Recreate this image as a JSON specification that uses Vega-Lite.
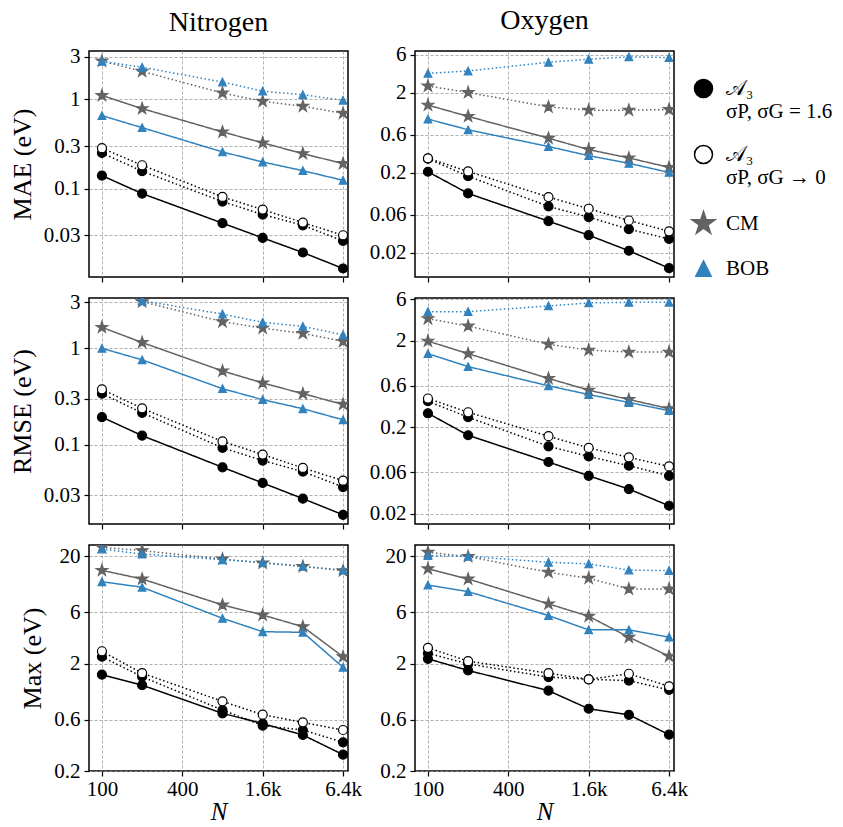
{
  "$schema": "https://vega.github.io/schema/vega-lite/v6.json",
  "background": "white",
  "padding": {"left": 8, "top": 6, "right": 2, "bottom": 0},
  "datasets": {
    "err": [
      {"el":"Nitrogen","metric":"MAE","method":"CM","line":"solid","N":100,"v":1.11},
      {"el":"Nitrogen","metric":"MAE","method":"CM","line":"solid","N":200,"v":0.79},
      {"el":"Nitrogen","metric":"MAE","method":"CM","line":"solid","N":800,"v":0.433},
      {"el":"Nitrogen","metric":"MAE","method":"CM","line":"solid","N":1600,"v":0.326},
      {"el":"Nitrogen","metric":"MAE","method":"CM","line":"solid","N":3200,"v":0.247},
      {"el":"Nitrogen","metric":"MAE","method":"CM","line":"solid","N":6400,"v":0.191},
      {"el":"Nitrogen","metric":"MAE","method":"CM","line":"dotted","N":100,"v":2.70},
      {"el":"Nitrogen","metric":"MAE","method":"CM","line":"dotted","N":200,"v":2.07},
      {"el":"Nitrogen","metric":"MAE","method":"CM","line":"dotted","N":800,"v":1.18},
      {"el":"Nitrogen","metric":"MAE","method":"CM","line":"dotted","N":1600,"v":0.955},
      {"el":"Nitrogen","metric":"MAE","method":"CM","line":"dotted","N":3200,"v":0.839},
      {"el":"Nitrogen","metric":"MAE","method":"CM","line":"dotted","N":6400,"v":0.700},
      {"el":"Nitrogen","metric":"MAE","method":"BOB","line":"solid","N":100,"v":0.659},
      {"el":"Nitrogen","metric":"MAE","method":"BOB","line":"solid","N":200,"v":0.483},
      {"el":"Nitrogen","metric":"MAE","method":"BOB","line":"solid","N":800,"v":0.258},
      {"el":"Nitrogen","metric":"MAE","method":"BOB","line":"solid","N":1600,"v":0.199},
      {"el":"Nitrogen","metric":"MAE","method":"BOB","line":"solid","N":3200,"v":0.159},
      {"el":"Nitrogen","metric":"MAE","method":"BOB","line":"solid","N":6400,"v":0.124},
      {"el":"Nitrogen","metric":"MAE","method":"BOB","line":"dotted","N":100,"v":2.68},
      {"el":"Nitrogen","metric":"MAE","method":"BOB","line":"dotted","N":200,"v":2.30},
      {"el":"Nitrogen","metric":"MAE","method":"BOB","line":"dotted","N":800,"v":1.57},
      {"el":"Nitrogen","metric":"MAE","method":"BOB","line":"dotted","N":1600,"v":1.24},
      {"el":"Nitrogen","metric":"MAE","method":"BOB","line":"dotted","N":3200,"v":1.13},
      {"el":"Nitrogen","metric":"MAE","method":"BOB","line":"dotted","N":6400,"v":0.98},
      {"el":"Nitrogen","metric":"MAE","method":"a16","line":"solid","N":100,"v":0.140},
      {"el":"Nitrogen","metric":"MAE","method":"a16","line":"solid","N":200,"v":0.088},
      {"el":"Nitrogen","metric":"MAE","method":"a16","line":"solid","N":800,"v":0.041},
      {"el":"Nitrogen","metric":"MAE","method":"a16","line":"solid","N":1600,"v":0.028},
      {"el":"Nitrogen","metric":"MAE","method":"a16","line":"solid","N":3200,"v":0.0192},
      {"el":"Nitrogen","metric":"MAE","method":"a16","line":"solid","N":6400,"v":0.0127},
      {"el":"Nitrogen","metric":"MAE","method":"a16","line":"dotted","N":100,"v":0.251},
      {"el":"Nitrogen","metric":"MAE","method":"a16","line":"dotted","N":200,"v":0.157},
      {"el":"Nitrogen","metric":"MAE","method":"a16","line":"dotted","N":800,"v":0.0716},
      {"el":"Nitrogen","metric":"MAE","method":"a16","line":"dotted","N":1600,"v":0.0512},
      {"el":"Nitrogen","metric":"MAE","method":"a16","line":"dotted","N":3200,"v":0.0388},
      {"el":"Nitrogen","metric":"MAE","method":"a16","line":"dotted","N":6400,"v":0.0259},
      {"el":"Nitrogen","metric":"MAE","method":"a0","line":"dotted","N":100,"v":0.284},
      {"el":"Nitrogen","metric":"MAE","method":"a0","line":"dotted","N":200,"v":0.183},
      {"el":"Nitrogen","metric":"MAE","method":"a0","line":"dotted","N":800,"v":0.0807},
      {"el":"Nitrogen","metric":"MAE","method":"a0","line":"dotted","N":1600,"v":0.0582},
      {"el":"Nitrogen","metric":"MAE","method":"a0","line":"dotted","N":3200,"v":0.0416},
      {"el":"Nitrogen","metric":"MAE","method":"a0","line":"dotted","N":6400,"v":0.030},

      {"el":"Oxygen","metric":"MAE","method":"CM","line":"solid","N":100,"v":1.41},
      {"el":"Oxygen","metric":"MAE","method":"CM","line":"solid","N":200,"v":1.02},
      {"el":"Oxygen","metric":"MAE","method":"CM","line":"solid","N":800,"v":0.544},
      {"el":"Oxygen","metric":"MAE","method":"CM","line":"solid","N":1600,"v":0.392},
      {"el":"Oxygen","metric":"MAE","method":"CM","line":"solid","N":3200,"v":0.308},
      {"el":"Oxygen","metric":"MAE","method":"CM","line":"solid","N":6400,"v":0.235},
      {"el":"Oxygen","metric":"MAE","method":"CM","line":"dotted","N":100,"v":2.44},
      {"el":"Oxygen","metric":"MAE","method":"CM","line":"dotted","N":200,"v":2.03},
      {"el":"Oxygen","metric":"MAE","method":"CM","line":"dotted","N":800,"v":1.34},
      {"el":"Oxygen","metric":"MAE","method":"CM","line":"dotted","N":1600,"v":1.22},
      {"el":"Oxygen","metric":"MAE","method":"CM","line":"dotted","N":3200,"v":1.22},
      {"el":"Oxygen","metric":"MAE","method":"CM","line":"dotted","N":6400,"v":1.24},
      {"el":"Oxygen","metric":"MAE","method":"BOB","line":"solid","N":100,"v":0.944},
      {"el":"Oxygen","metric":"MAE","method":"BOB","line":"solid","N":200,"v":0.693},
      {"el":"Oxygen","metric":"MAE","method":"BOB","line":"solid","N":800,"v":0.428},
      {"el":"Oxygen","metric":"MAE","method":"BOB","line":"solid","N":1600,"v":0.329},
      {"el":"Oxygen","metric":"MAE","method":"BOB","line":"solid","N":3200,"v":0.264},
      {"el":"Oxygen","metric":"MAE","method":"BOB","line":"solid","N":6400,"v":0.203},
      {"el":"Oxygen","metric":"MAE","method":"BOB","line":"dotted","N":100,"v":3.52},
      {"el":"Oxygen","metric":"MAE","method":"BOB","line":"dotted","N":200,"v":3.77},
      {"el":"Oxygen","metric":"MAE","method":"BOB","line":"dotted","N":800,"v":4.85},
      {"el":"Oxygen","metric":"MAE","method":"BOB","line":"dotted","N":1600,"v":5.29},
      {"el":"Oxygen","metric":"MAE","method":"BOB","line":"dotted","N":3200,"v":5.66},
      {"el":"Oxygen","metric":"MAE","method":"BOB","line":"dotted","N":6400,"v":5.55},
      {"el":"Oxygen","metric":"MAE","method":"a16","line":"solid","N":100,"v":0.207},
      {"el":"Oxygen","metric":"MAE","method":"a16","line":"solid","N":200,"v":0.111},
      {"el":"Oxygen","metric":"MAE","method":"a16","line":"solid","N":800,"v":0.0499},
      {"el":"Oxygen","metric":"MAE","method":"a16","line":"solid","N":1600,"v":0.0333},
      {"el":"Oxygen","metric":"MAE","method":"a16","line":"solid","N":3200,"v":0.0213},
      {"el":"Oxygen","metric":"MAE","method":"a16","line":"solid","N":6400,"v":0.0129},
      {"el":"Oxygen","metric":"MAE","method":"a16","line":"dotted","N":100,"v":0.302},
      {"el":"Oxygen","metric":"MAE","method":"a16","line":"dotted","N":200,"v":0.182},
      {"el":"Oxygen","metric":"MAE","method":"a16","line":"dotted","N":800,"v":0.0764},
      {"el":"Oxygen","metric":"MAE","method":"a16","line":"dotted","N":1600,"v":0.0561},
      {"el":"Oxygen","metric":"MAE","method":"a16","line":"dotted","N":3200,"v":0.0396},
      {"el":"Oxygen","metric":"MAE","method":"a16","line":"dotted","N":6400,"v":0.0299},
      {"el":"Oxygen","metric":"MAE","method":"a0","line":"dotted","N":100,"v":0.305},
      {"el":"Oxygen","metric":"MAE","method":"a0","line":"dotted","N":200,"v":0.209},
      {"el":"Oxygen","metric":"MAE","method":"a0","line":"dotted","N":800,"v":0.100},
      {"el":"Oxygen","metric":"MAE","method":"a0","line":"dotted","N":1600,"v":0.0714},
      {"el":"Oxygen","metric":"MAE","method":"a0","line":"dotted","N":3200,"v":0.0509},
      {"el":"Oxygen","metric":"MAE","method":"a0","line":"dotted","N":6400,"v":0.0373},

      {"el":"Nitrogen","metric":"RMSE","method":"CM","line":"solid","N":100,"v":1.65},
      {"el":"Nitrogen","metric":"RMSE","method":"CM","line":"solid","N":200,"v":1.15},
      {"el":"Nitrogen","metric":"RMSE","method":"CM","line":"solid","N":800,"v":0.582},
      {"el":"Nitrogen","metric":"RMSE","method":"CM","line":"solid","N":1600,"v":0.437},
      {"el":"Nitrogen","metric":"RMSE","method":"CM","line":"solid","N":3200,"v":0.338},
      {"el":"Nitrogen","metric":"RMSE","method":"CM","line":"solid","N":6400,"v":0.262},
      {"el":"Nitrogen","metric":"RMSE","method":"CM","line":"dotted","N":100,"v":4.3},
      {"el":"Nitrogen","metric":"RMSE","method":"CM","line":"dotted","N":200,"v":3.05},
      {"el":"Nitrogen","metric":"RMSE","method":"CM","line":"dotted","N":800,"v":1.89},
      {"el":"Nitrogen","metric":"RMSE","method":"CM","line":"dotted","N":1600,"v":1.62},
      {"el":"Nitrogen","metric":"RMSE","method":"CM","line":"dotted","N":3200,"v":1.43},
      {"el":"Nitrogen","metric":"RMSE","method":"CM","line":"dotted","N":6400,"v":1.18},
      {"el":"Nitrogen","metric":"RMSE","method":"BOB","line":"solid","N":100,"v":1.00},
      {"el":"Nitrogen","metric":"RMSE","method":"BOB","line":"solid","N":200,"v":0.759},
      {"el":"Nitrogen","metric":"RMSE","method":"BOB","line":"solid","N":800,"v":0.381},
      {"el":"Nitrogen","metric":"RMSE","method":"BOB","line":"solid","N":1600,"v":0.293},
      {"el":"Nitrogen","metric":"RMSE","method":"BOB","line":"solid","N":3200,"v":0.236},
      {"el":"Nitrogen","metric":"RMSE","method":"BOB","line":"solid","N":6400,"v":0.181},
      {"el":"Nitrogen","metric":"RMSE","method":"BOB","line":"dotted","N":100,"v":4.4},
      {"el":"Nitrogen","metric":"RMSE","method":"BOB","line":"dotted","N":200,"v":3.12},
      {"el":"Nitrogen","metric":"RMSE","method":"BOB","line":"dotted","N":800,"v":2.27},
      {"el":"Nitrogen","metric":"RMSE","method":"BOB","line":"dotted","N":1600,"v":1.86},
      {"el":"Nitrogen","metric":"RMSE","method":"BOB","line":"dotted","N":3200,"v":1.69},
      {"el":"Nitrogen","metric":"RMSE","method":"BOB","line":"dotted","N":6400,"v":1.38},
      {"el":"Nitrogen","metric":"RMSE","method":"a16","line":"solid","N":100,"v":0.193},
      {"el":"Nitrogen","metric":"RMSE","method":"a16","line":"solid","N":200,"v":0.124},
      {"el":"Nitrogen","metric":"RMSE","method":"a16","line":"solid","N":800,"v":0.0582},
      {"el":"Nitrogen","metric":"RMSE","method":"a16","line":"solid","N":1600,"v":0.040},
      {"el":"Nitrogen","metric":"RMSE","method":"a16","line":"solid","N":3200,"v":0.0275},
      {"el":"Nitrogen","metric":"RMSE","method":"a16","line":"solid","N":6400,"v":0.0187},
      {"el":"Nitrogen","metric":"RMSE","method":"a16","line":"dotted","N":100,"v":0.338},
      {"el":"Nitrogen","metric":"RMSE","method":"a16","line":"dotted","N":200,"v":0.214},
      {"el":"Nitrogen","metric":"RMSE","method":"a16","line":"dotted","N":800,"v":0.0927},
      {"el":"Nitrogen","metric":"RMSE","method":"a16","line":"dotted","N":1600,"v":0.0684},
      {"el":"Nitrogen","metric":"RMSE","method":"a16","line":"dotted","N":3200,"v":0.0525},
      {"el":"Nitrogen","metric":"RMSE","method":"a16","line":"dotted","N":6400,"v":0.0363},
      {"el":"Nitrogen","metric":"RMSE","method":"a0","line":"dotted","N":100,"v":0.375},
      {"el":"Nitrogen","metric":"RMSE","method":"a0","line":"dotted","N":200,"v":0.238},
      {"el":"Nitrogen","metric":"RMSE","method":"a0","line":"dotted","N":800,"v":0.108},
      {"el":"Nitrogen","metric":"RMSE","method":"a0","line":"dotted","N":1600,"v":0.0789},
      {"el":"Nitrogen","metric":"RMSE","method":"a0","line":"dotted","N":3200,"v":0.0573},
      {"el":"Nitrogen","metric":"RMSE","method":"a0","line":"dotted","N":6400,"v":0.0423},

      {"el":"Oxygen","metric":"RMSE","method":"CM","line":"solid","N":100,"v":1.97},
      {"el":"Oxygen","metric":"RMSE","method":"CM","line":"solid","N":200,"v":1.41},
      {"el":"Oxygen","metric":"RMSE","method":"CM","line":"solid","N":800,"v":0.730},
      {"el":"Oxygen","metric":"RMSE","method":"CM","line":"solid","N":1600,"v":0.535},
      {"el":"Oxygen","metric":"RMSE","method":"CM","line":"solid","N":3200,"v":0.417},
      {"el":"Oxygen","metric":"RMSE","method":"CM","line":"solid","N":6400,"v":0.327},
      {"el":"Oxygen","metric":"RMSE","method":"CM","line":"dotted","N":100,"v":3.58},
      {"el":"Oxygen","metric":"RMSE","method":"CM","line":"dotted","N":200,"v":2.94},
      {"el":"Oxygen","metric":"RMSE","method":"CM","line":"dotted","N":800,"v":1.81},
      {"el":"Oxygen","metric":"RMSE","method":"CM","line":"dotted","N":1600,"v":1.55},
      {"el":"Oxygen","metric":"RMSE","method":"CM","line":"dotted","N":3200,"v":1.47},
      {"el":"Oxygen","metric":"RMSE","method":"CM","line":"dotted","N":6400,"v":1.47},
      {"el":"Oxygen","metric":"RMSE","method":"BOB","line":"solid","N":100,"v":1.41},
      {"el":"Oxygen","metric":"RMSE","method":"BOB","line":"solid","N":200,"v":1.00},
      {"el":"Oxygen","metric":"RMSE","method":"BOB","line":"solid","N":800,"v":0.600},
      {"el":"Oxygen","metric":"RMSE","method":"BOB","line":"solid","N":1600,"v":0.476},
      {"el":"Oxygen","metric":"RMSE","method":"BOB","line":"solid","N":3200,"v":0.385},
      {"el":"Oxygen","metric":"RMSE","method":"BOB","line":"solid","N":6400,"v":0.310},
      {"el":"Oxygen","metric":"RMSE","method":"BOB","line":"dotted","N":100,"v":4.31},
      {"el":"Oxygen","metric":"RMSE","method":"BOB","line":"dotted","N":200,"v":4.31},
      {"el":"Oxygen","metric":"RMSE","method":"BOB","line":"dotted","N":800,"v":5.02},
      {"el":"Oxygen","metric":"RMSE","method":"BOB","line":"dotted","N":1600,"v":5.44},
      {"el":"Oxygen","metric":"RMSE","method":"BOB","line":"dotted","N":3200,"v":5.53},
      {"el":"Oxygen","metric":"RMSE","method":"BOB","line":"dotted","N":6400,"v":5.53},
      {"el":"Oxygen","metric":"RMSE","method":"a16","line":"solid","N":100,"v":0.289},
      {"el":"Oxygen","metric":"RMSE","method":"a16","line":"solid","N":200,"v":0.161},
      {"el":"Oxygen","metric":"RMSE","method":"a16","line":"solid","N":800,"v":0.0791},
      {"el":"Oxygen","metric":"RMSE","method":"a16","line":"solid","N":1600,"v":0.0548},
      {"el":"Oxygen","metric":"RMSE","method":"a16","line":"solid","N":3200,"v":0.0385},
      {"el":"Oxygen","metric":"RMSE","method":"a16","line":"solid","N":6400,"v":0.0247},
      {"el":"Oxygen","metric":"RMSE","method":"a16","line":"dotted","N":100,"v":0.398},
      {"el":"Oxygen","metric":"RMSE","method":"a16","line":"dotted","N":200,"v":0.260},
      {"el":"Oxygen","metric":"RMSE","method":"a16","line":"dotted","N":800,"v":0.120},
      {"el":"Oxygen","metric":"RMSE","method":"a16","line":"dotted","N":1600,"v":0.0918},
      {"el":"Oxygen","metric":"RMSE","method":"a16","line":"dotted","N":3200,"v":0.0716},
      {"el":"Oxygen","metric":"RMSE","method":"a16","line":"dotted","N":6400,"v":0.0548},
      {"el":"Oxygen","metric":"RMSE","method":"a0","line":"dotted","N":100,"v":0.428},
      {"el":"Oxygen","metric":"RMSE","method":"a0","line":"dotted","N":200,"v":0.297},
      {"el":"Oxygen","metric":"RMSE","method":"a0","line":"dotted","N":800,"v":0.157},
      {"el":"Oxygen","metric":"RMSE","method":"a0","line":"dotted","N":1600,"v":0.115},
      {"el":"Oxygen","metric":"RMSE","method":"a0","line":"dotted","N":3200,"v":0.0895},
      {"el":"Oxygen","metric":"RMSE","method":"a0","line":"dotted","N":6400,"v":0.0703},

      {"el":"Nitrogen","metric":"Max","method":"CM","line":"solid","N":100,"v":14.8},
      {"el":"Nitrogen","metric":"Max","method":"CM","line":"solid","N":200,"v":12.3},
      {"el":"Nitrogen","metric":"Max","method":"CM","line":"solid","N":800,"v":7.05},
      {"el":"Nitrogen","metric":"Max","method":"CM","line":"solid","N":1600,"v":5.68},
      {"el":"Nitrogen","metric":"Max","method":"CM","line":"solid","N":3200,"v":4.42},
      {"el":"Nitrogen","metric":"Max","method":"CM","line":"solid","N":6400,"v":2.32},
      {"el":"Nitrogen","metric":"Max","method":"CM","line":"dotted","N":100,"v":24.3},
      {"el":"Nitrogen","metric":"Max","method":"CM","line":"dotted","N":200,"v":22.6},
      {"el":"Nitrogen","metric":"Max","method":"CM","line":"dotted","N":800,"v":18.9},
      {"el":"Nitrogen","metric":"Max","method":"CM","line":"dotted","N":1600,"v":17.3},
      {"el":"Nitrogen","metric":"Max","method":"CM","line":"dotted","N":3200,"v":16.1},
      {"el":"Nitrogen","metric":"Max","method":"CM","line":"dotted","N":6400,"v":14.7},
      {"el":"Nitrogen","metric":"Max","method":"BOB","line":"solid","N":100,"v":11.6},
      {"el":"Nitrogen","metric":"Max","method":"BOB","line":"solid","N":200,"v":10.3},
      {"el":"Nitrogen","metric":"Max","method":"BOB","line":"solid","N":800,"v":5.29},
      {"el":"Nitrogen","metric":"Max","method":"BOB","line":"solid","N":1600,"v":3.97},
      {"el":"Nitrogen","metric":"Max","method":"BOB","line":"solid","N":3200,"v":3.92},
      {"el":"Nitrogen","metric":"Max","method":"BOB","line":"solid","N":6400,"v":1.85},
      {"el":"Nitrogen","metric":"Max","method":"BOB","line":"dotted","N":100,"v":23.4},
      {"el":"Nitrogen","metric":"Max","method":"BOB","line":"dotted","N":200,"v":21.0},
      {"el":"Nitrogen","metric":"Max","method":"BOB","line":"dotted","N":800,"v":18.6},
      {"el":"Nitrogen","metric":"Max","method":"BOB","line":"dotted","N":1600,"v":17.6},
      {"el":"Nitrogen","metric":"Max","method":"BOB","line":"dotted","N":3200,"v":16.1},
      {"el":"Nitrogen","metric":"Max","method":"BOB","line":"dotted","N":6400,"v":14.9},
      {"el":"Nitrogen","metric":"Max","method":"a16","line":"solid","N":100,"v":1.58},
      {"el":"Nitrogen","metric":"Max","method":"a16","line":"solid","N":200,"v":1.26},
      {"el":"Nitrogen","metric":"Max","method":"a16","line":"solid","N":800,"v":0.689},
      {"el":"Nitrogen","metric":"Max","method":"a16","line":"solid","N":1600,"v":0.553},
      {"el":"Nitrogen","metric":"Max","method":"a16","line":"solid","N":3200,"v":0.433},
      {"el":"Nitrogen","metric":"Max","method":"a16","line":"solid","N":6400,"v":0.284},
      {"el":"Nitrogen","metric":"Max","method":"a16","line":"dotted","N":100,"v":2.32},
      {"el":"Nitrogen","metric":"Max","method":"a16","line":"dotted","N":200,"v":1.51},
      {"el":"Nitrogen","metric":"Max","method":"a16","line":"dotted","N":800,"v":0.740},
      {"el":"Nitrogen","metric":"Max","method":"a16","line":"dotted","N":1600,"v":0.529},
      {"el":"Nitrogen","metric":"Max","method":"a16","line":"dotted","N":3200,"v":0.482},
      {"el":"Nitrogen","metric":"Max","method":"a16","line":"dotted","N":6400,"v":0.370},
      {"el":"Nitrogen","metric":"Max","method":"a0","line":"dotted","N":100,"v":2.61},
      {"el":"Nitrogen","metric":"Max","method":"a0","line":"dotted","N":200,"v":1.63},
      {"el":"Nitrogen","metric":"Max","method":"a0","line":"dotted","N":800,"v":0.891},
      {"el":"Nitrogen","metric":"Max","method":"a0","line":"dotted","N":1600,"v":0.670},
      {"el":"Nitrogen","metric":"Max","method":"a0","line":"dotted","N":3200,"v":0.568},
      {"el":"Nitrogen","metric":"Max","method":"a0","line":"dotted","N":6400,"v":0.482},

      {"el":"Oxygen","metric":"Max","method":"CM","line":"solid","N":100,"v":15.3},
      {"el":"Oxygen","metric":"Max","method":"CM","line":"solid","N":200,"v":12.3},
      {"el":"Oxygen","metric":"Max","method":"CM","line":"solid","N":800,"v":7.21},
      {"el":"Oxygen","metric":"Max","method":"CM","line":"solid","N":1600,"v":5.53},
      {"el":"Oxygen","metric":"Max","method":"CM","line":"solid","N":3200,"v":3.53},
      {"el":"Oxygen","metric":"Max","method":"CM","line":"solid","N":6400,"v":2.35},
      {"el":"Oxygen","metric":"Max","method":"CM","line":"dotted","N":100,"v":21.8},
      {"el":"Oxygen","metric":"Max","method":"CM","line":"dotted","N":200,"v":19.9},
      {"el":"Oxygen","metric":"Max","method":"CM","line":"dotted","N":800,"v":14.2},
      {"el":"Oxygen","metric":"Max","method":"CM","line":"dotted","N":1600,"v":12.5},
      {"el":"Oxygen","metric":"Max","method":"CM","line":"dotted","N":3200,"v":9.93},
      {"el":"Oxygen","metric":"Max","method":"CM","line":"dotted","N":6400,"v":9.93},
      {"el":"Oxygen","metric":"Max","method":"BOB","line":"solid","N":100,"v":10.8},
      {"el":"Oxygen","metric":"Max","method":"BOB","line":"solid","N":200,"v":9.38},
      {"el":"Oxygen","metric":"Max","method":"BOB","line":"solid","N":800,"v":5.61},
      {"el":"Oxygen","metric":"Max","method":"BOB","line":"solid","N":1600,"v":4.13},
      {"el":"Oxygen","metric":"Max","method":"BOB","line":"solid","N":3200,"v":4.13},
      {"el":"Oxygen","metric":"Max","method":"BOB","line":"solid","N":6400,"v":3.53},
      {"el":"Oxygen","metric":"Max","method":"BOB","line":"dotted","N":100,"v":20.3},
      {"el":"Oxygen","metric":"Max","method":"BOB","line":"dotted","N":200,"v":20.0},
      {"el":"Oxygen","metric":"Max","method":"BOB","line":"dotted","N":800,"v":17.6},
      {"el":"Oxygen","metric":"Max","method":"BOB","line":"dotted","N":1600,"v":17.0},
      {"el":"Oxygen","metric":"Max","method":"BOB","line":"dotted","N":3200,"v":14.9},
      {"el":"Oxygen","metric":"Max","method":"BOB","line":"dotted","N":6400,"v":14.7},
      {"el":"Oxygen","metric":"Max","method":"a16","line":"solid","N":100,"v":2.22},
      {"el":"Oxygen","metric":"Max","method":"a16","line":"solid","N":200,"v":1.73},
      {"el":"Oxygen","metric":"Max","method":"a16","line":"solid","N":800,"v":1.12},
      {"el":"Oxygen","metric":"Max","method":"a16","line":"solid","N":1600,"v":0.760},
      {"el":"Oxygen","metric":"Max","method":"a16","line":"solid","N":3200,"v":0.668},
      {"el":"Oxygen","metric":"Max","method":"a16","line":"solid","N":6400,"v":0.436},
      {"el":"Oxygen","metric":"Max","method":"a16","line":"dotted","N":100,"v":2.50},
      {"el":"Oxygen","metric":"Max","method":"a16","line":"dotted","N":200,"v":1.99},
      {"el":"Oxygen","metric":"Max","method":"a16","line":"dotted","N":800,"v":1.50},
      {"el":"Oxygen","metric":"Max","method":"a16","line":"dotted","N":1600,"v":1.43},
      {"el":"Oxygen","metric":"Max","method":"a16","line":"dotted","N":3200,"v":1.39},
      {"el":"Oxygen","metric":"Max","method":"a16","line":"dotted","N":6400,"v":1.14},
      {"el":"Oxygen","metric":"Max","method":"a0","line":"dotted","N":100,"v":2.81},
      {"el":"Oxygen","metric":"Max","method":"a0","line":"dotted","N":200,"v":2.11},
      {"el":"Oxygen","metric":"Max","method":"a0","line":"dotted","N":800,"v":1.63},
      {"el":"Oxygen","metric":"Max","method":"a0","line":"dotted","N":1600,"v":1.43},
      {"el":"Oxygen","metric":"Max","method":"a0","line":"dotted","N":3200,"v":1.61},
      {"el":"Oxygen","metric":"Max","method":"a0","line":"dotted","N":6400,"v":1.23}
    ]
  },
  "data": {"name": "err"},
  "columns": 2,
  "bounds": "flush",
  "spacing": {"row": 21, "column": 67},
  "config": {
    "font": "Liberation Serif",
    "view": {"stroke": "black", "strokeWidth": 1.5},
    "axis": {
      "domain": false,
      "grid": true,
      "gridColor": "#9a9a9a",
      "gridDash": [3, 2],
      "gridWidth": 0.8,
      "ticks": true,
      "tickColor": "black",
      "tickSize": 5,
      "tickWidth": 1.2,
      "labelFont": "Liberation Serif",
      "labelFontSize": 21,
      "labelColor": "black",
      "labelOverlap": false,
      "labelFlush": false,
      "labelPadding": 4,
      "titleFont": "Liberation Serif",
      "titleFontSize": 26,
      "titleFontWeight": "normal",
      "titleColor": "black"
    },
    "axisY": {"titlePadding": 8},
    "axisX": {"titlePadding": 0, "labelPadding": 2, "titleFontSize": 25, "titleFontStyle": "italic"},
    "title": {"font": "Liberation Serif", "fontSize": 28, "fontWeight": "normal", "color": "black", "offset": 9},
    "legend": {
      "orient": "right",
      "labelFont": "Liberation Serif",
      "labelFontSize": 21,
      "labelColor": "black",
      "symbolSize": 324,
      "symbolStrokeWidth": 1.5,
      "rowPadding": 20,
      "labelOffset": 12,
      "offset": -23,
      "padding": 27
    }
  },
  "concat": [
    {
      "width": 259, "height": 226,
      "title": "Nitrogen",
      "transform": [{"filter": "datum.el == 'Nitrogen' && datum.metric == 'MAE'"}],
      "encoding": {
        "x": {"field": "N", "type": "quantitative", "scale": {"type": "log", "domain": [80, 6970], "nice": false}, "axis": {"values": [100, 400, 1600, 6400], "labels": false, "title": null}},
        "y": {"field": "v", "type": "quantitative", "scale": {"type": "log", "domain": [0.0102, 3.5], "nice": false}, "axis": {"values": [0.03, 0.1, 0.3, 1, 3], "format": "~g", "title": "MAE (eV)"}}
      },
      "layer": [
        {"mark": {"type": "line", "clip": true, "strokeWidth": 1.5},
         "encoding": {
           "color": {"field": "method", "type": "nominal", "scale": {"domain": ["BOB", "CM", "a0", "a16"], "range": ["#3182bd", "#636363", "black", "black"]}, "legend": null},
           "strokeDash": {"field": "line", "type": "nominal", "scale": {"domain": ["solid", "dotted"], "range": [[1, 0], [1.5, 2.5]]}, "legend": null}}},
        {"mark": {"type": "point", "filled": true, "opacity": 1, "size": 81, "strokeWidth": 1.2, "clip": true},
         "encoding": {
           "shape": {"field": "method", "type": "nominal", "scale": {"domain": ["a16", "a0", "CM", "BOB"], "range": ["M1,0A1,1,0,1,1,-1,0A1,1,0,1,1,1,0Z", "M1,0A1,1,0,1,1,-1,0A1,1,0,1,1,1,0Z", "M0,-1.35L0.303,-0.417L1.284,-0.417L0.491,0.159L0.794,1.092L0,0.516L-0.794,1.092L-0.491,0.159L-1.284,-0.417L-0.303,-0.417Z", "M0,-0.85L0.85,0.85L-0.85,0.85Z"]}, "legend": {"title": null, "labelExpr": "datum.value == 'a16' ? ['𝒜₃', 'σP, σG = 1.6'] : datum.value == 'a0' ? ['𝒜₃', 'σP, σG → 0'] : datum.value", "encoding": {"labels": {"update": {"lineHeight": {"value": 19}, "dy": {"condition": {"test": "datum.value == 'CM' || datum.value == 'BOB'", "value": 0}, "value": -11}}}}}},
           "fill": {"field": "method", "type": "nominal", "scale": {"domain": ["a16", "a0", "CM", "BOB"], "range": ["black", "white", "#636363", "#3182bd"]}, "legend": {"title": null, "labelExpr": "datum.value == 'a16' ? ['𝒜₃', 'σP, σG = 1.6'] : datum.value == 'a0' ? ['𝒜₃', 'σP, σG → 0'] : datum.value", "encoding": {"labels": {"update": {"lineHeight": {"value": 19}, "dy": {"condition": {"test": "datum.value == 'CM' || datum.value == 'BOB'", "value": 0}, "value": -11}}}}}},
           "stroke": {"field": "method", "type": "nominal", "scale": {"domain": ["a16", "a0", "CM", "BOB"], "range": ["black", "black", "#636363", "#3182bd"]}, "legend": {"title": null, "labelExpr": "datum.value == 'a16' ? ['𝒜₃', 'σP, σG = 1.6'] : datum.value == 'a0' ? ['𝒜₃', 'σP, σG → 0'] : datum.value", "encoding": {"labels": {"update": {"lineHeight": {"value": 19}, "dy": {"condition": {"test": "datum.value == 'CM' || datum.value == 'BOB'", "value": 0}, "value": -11}}}}}}}}
      ]
    },
    {
      "width": 259, "height": 226,
      "title": "Oxygen",
      "transform": [{"filter": "datum.el == 'Oxygen' && datum.metric == 'MAE'"}],
      "encoding": {
        "x": {"field": "N", "type": "quantitative", "scale": {"type": "log", "domain": [80, 6970], "nice": false}, "axis": {"values": [100, 400, 1600, 6400], "labels": false, "title": null}},
        "y": {"field": "v", "type": "quantitative", "scale": {"type": "log", "domain": [0.01, 6.7], "nice": false}, "axis": {"values": [0.02, 0.06, 0.2, 0.6, 2, 6], "format": "~g", "title": null}}
      },
      "layer": [
        {"mark": {"type": "line", "clip": true, "strokeWidth": 1.5},
         "encoding": {
           "color": {"field": "method", "type": "nominal", "scale": {"domain": ["BOB", "CM", "a0", "a16"], "range": ["#3182bd", "#636363", "black", "black"]}, "legend": null},
           "strokeDash": {"field": "line", "type": "nominal", "scale": {"domain": ["solid", "dotted"], "range": [[1, 0], [1.5, 2.5]]}, "legend": null}}},
        {"mark": {"type": "point", "filled": true, "opacity": 1, "size": 81, "strokeWidth": 1.2, "clip": true},
         "encoding": {
           "shape": {"field": "method", "type": "nominal", "scale": {"domain": ["a16", "a0", "CM", "BOB"], "range": ["M1,0A1,1,0,1,1,-1,0A1,1,0,1,1,1,0Z", "M1,0A1,1,0,1,1,-1,0A1,1,0,1,1,1,0Z", "M0,-1.35L0.303,-0.417L1.284,-0.417L0.491,0.159L0.794,1.092L0,0.516L-0.794,1.092L-0.491,0.159L-1.284,-0.417L-0.303,-0.417Z", "M0,-0.85L0.85,0.85L-0.85,0.85Z"]}, "legend": {"title": null, "labelExpr": "datum.value == 'a16' ? ['𝒜₃', 'σP, σG = 1.6'] : datum.value == 'a0' ? ['𝒜₃', 'σP, σG → 0'] : datum.value", "encoding": {"labels": {"update": {"lineHeight": {"value": 19}, "dy": {"condition": {"test": "datum.value == 'CM' || datum.value == 'BOB'", "value": 0}, "value": -11}}}}}},
           "fill": {"field": "method", "type": "nominal", "scale": {"domain": ["a16", "a0", "CM", "BOB"], "range": ["black", "white", "#636363", "#3182bd"]}, "legend": {"title": null, "labelExpr": "datum.value == 'a16' ? ['𝒜₃', 'σP, σG = 1.6'] : datum.value == 'a0' ? ['𝒜₃', 'σP, σG → 0'] : datum.value", "encoding": {"labels": {"update": {"lineHeight": {"value": 19}, "dy": {"condition": {"test": "datum.value == 'CM' || datum.value == 'BOB'", "value": 0}, "value": -11}}}}}},
           "stroke": {"field": "method", "type": "nominal", "scale": {"domain": ["a16", "a0", "CM", "BOB"], "range": ["black", "black", "#636363", "#3182bd"]}, "legend": {"title": null, "labelExpr": "datum.value == 'a16' ? ['𝒜₃', 'σP, σG = 1.6'] : datum.value == 'a0' ? ['𝒜₃', 'σP, σG → 0'] : datum.value", "encoding": {"labels": {"update": {"lineHeight": {"value": 19}, "dy": {"condition": {"test": "datum.value == 'CM' || datum.value == 'BOB'", "value": 0}, "value": -11}}}}}}}}
      ]
    },
    {
      "width": 259, "height": 226,
      "transform": [{"filter": "datum.el == 'Nitrogen' && datum.metric == 'RMSE'"}],
      "encoding": {
        "x": {"field": "N", "type": "quantitative", "scale": {"type": "log", "domain": [80, 6970], "nice": false}, "axis": {"values": [100, 400, 1600, 6400], "labels": false, "title": null}},
        "y": {"field": "v", "type": "quantitative", "scale": {"type": "log", "domain": [0.015, 3.33], "nice": false}, "axis": {"values": [0.03, 0.1, 0.3, 1, 3], "format": "~g", "title": "RMSE (eV)"}}
      },
      "layer": [
        {"mark": {"type": "line", "clip": true, "strokeWidth": 1.5},
         "encoding": {
           "color": {"field": "method", "type": "nominal", "scale": {"domain": ["BOB", "CM", "a0", "a16"], "range": ["#3182bd", "#636363", "black", "black"]}, "legend": null},
           "strokeDash": {"field": "line", "type": "nominal", "scale": {"domain": ["solid", "dotted"], "range": [[1, 0], [1.5, 2.5]]}, "legend": null}}},
        {"mark": {"type": "point", "filled": true, "opacity": 1, "size": 81, "strokeWidth": 1.2, "clip": true},
         "encoding": {
           "shape": {"field": "method", "type": "nominal", "scale": {"domain": ["a16", "a0", "CM", "BOB"], "range": ["M1,0A1,1,0,1,1,-1,0A1,1,0,1,1,1,0Z", "M1,0A1,1,0,1,1,-1,0A1,1,0,1,1,1,0Z", "M0,-1.35L0.303,-0.417L1.284,-0.417L0.491,0.159L0.794,1.092L0,0.516L-0.794,1.092L-0.491,0.159L-1.284,-0.417L-0.303,-0.417Z", "M0,-0.85L0.85,0.85L-0.85,0.85Z"]}, "legend": {"title": null, "labelExpr": "datum.value == 'a16' ? ['𝒜₃', 'σP, σG = 1.6'] : datum.value == 'a0' ? ['𝒜₃', 'σP, σG → 0'] : datum.value", "encoding": {"labels": {"update": {"lineHeight": {"value": 19}, "dy": {"condition": {"test": "datum.value == 'CM' || datum.value == 'BOB'", "value": 0}, "value": -11}}}}}},
           "fill": {"field": "method", "type": "nominal", "scale": {"domain": ["a16", "a0", "CM", "BOB"], "range": ["black", "white", "#636363", "#3182bd"]}, "legend": {"title": null, "labelExpr": "datum.value == 'a16' ? ['𝒜₃', 'σP, σG = 1.6'] : datum.value == 'a0' ? ['𝒜₃', 'σP, σG → 0'] : datum.value", "encoding": {"labels": {"update": {"lineHeight": {"value": 19}, "dy": {"condition": {"test": "datum.value == 'CM' || datum.value == 'BOB'", "value": 0}, "value": -11}}}}}},
           "stroke": {"field": "method", "type": "nominal", "scale": {"domain": ["a16", "a0", "CM", "BOB"], "range": ["black", "black", "#636363", "#3182bd"]}, "legend": {"title": null, "labelExpr": "datum.value == 'a16' ? ['𝒜₃', 'σP, σG = 1.6'] : datum.value == 'a0' ? ['𝒜₃', 'σP, σG → 0'] : datum.value", "encoding": {"labels": {"update": {"lineHeight": {"value": 19}, "dy": {"condition": {"test": "datum.value == 'CM' || datum.value == 'BOB'", "value": 0}, "value": -11}}}}}}}}
      ]
    },
    {
      "width": 259, "height": 226,
      "transform": [{"filter": "datum.el == 'Oxygen' && datum.metric == 'RMSE'"}],
      "encoding": {
        "x": {"field": "N", "type": "quantitative", "scale": {"type": "log", "domain": [80, 6970], "nice": false}, "axis": {"values": [100, 400, 1600, 6400], "labels": false, "title": null}},
        "y": {"field": "v", "type": "quantitative", "scale": {"type": "log", "domain": [0.0152, 6.2], "nice": false}, "axis": {"values": [0.02, 0.06, 0.2, 0.6, 2, 6], "format": "~g", "title": null}}
      },
      "layer": [
        {"mark": {"type": "line", "clip": true, "strokeWidth": 1.5},
         "encoding": {
           "color": {"field": "method", "type": "nominal", "scale": {"domain": ["BOB", "CM", "a0", "a16"], "range": ["#3182bd", "#636363", "black", "black"]}, "legend": null},
           "strokeDash": {"field": "line", "type": "nominal", "scale": {"domain": ["solid", "dotted"], "range": [[1, 0], [1.5, 2.5]]}, "legend": null}}},
        {"mark": {"type": "point", "filled": true, "opacity": 1, "size": 81, "strokeWidth": 1.2, "clip": true},
         "encoding": {
           "shape": {"field": "method", "type": "nominal", "scale": {"domain": ["a16", "a0", "CM", "BOB"], "range": ["M1,0A1,1,0,1,1,-1,0A1,1,0,1,1,1,0Z", "M1,0A1,1,0,1,1,-1,0A1,1,0,1,1,1,0Z", "M0,-1.35L0.303,-0.417L1.284,-0.417L0.491,0.159L0.794,1.092L0,0.516L-0.794,1.092L-0.491,0.159L-1.284,-0.417L-0.303,-0.417Z", "M0,-0.85L0.85,0.85L-0.85,0.85Z"]}, "legend": {"title": null, "labelExpr": "datum.value == 'a16' ? ['𝒜₃', 'σP, σG = 1.6'] : datum.value == 'a0' ? ['𝒜₃', 'σP, σG → 0'] : datum.value", "encoding": {"labels": {"update": {"lineHeight": {"value": 19}, "dy": {"condition": {"test": "datum.value == 'CM' || datum.value == 'BOB'", "value": 0}, "value": -11}}}}}},
           "fill": {"field": "method", "type": "nominal", "scale": {"domain": ["a16", "a0", "CM", "BOB"], "range": ["black", "white", "#636363", "#3182bd"]}, "legend": {"title": null, "labelExpr": "datum.value == 'a16' ? ['𝒜₃', 'σP, σG = 1.6'] : datum.value == 'a0' ? ['𝒜₃', 'σP, σG → 0'] : datum.value", "encoding": {"labels": {"update": {"lineHeight": {"value": 19}, "dy": {"condition": {"test": "datum.value == 'CM' || datum.value == 'BOB'", "value": 0}, "value": -11}}}}}},
           "stroke": {"field": "method", "type": "nominal", "scale": {"domain": ["a16", "a0", "CM", "BOB"], "range": ["black", "black", "#636363", "#3182bd"]}, "legend": {"title": null, "labelExpr": "datum.value == 'a16' ? ['𝒜₃', 'σP, σG = 1.6'] : datum.value == 'a0' ? ['𝒜₃', 'σP, σG → 0'] : datum.value", "encoding": {"labels": {"update": {"lineHeight": {"value": 19}, "dy": {"condition": {"test": "datum.value == 'CM' || datum.value == 'BOB'", "value": 0}, "value": -11}}}}}}}}
      ]
    },
    {
      "width": 259, "height": 226,
      "transform": [{"filter": "datum.el == 'Nitrogen' && datum.metric == 'Max'"}],
      "encoding": {
        "x": {"field": "N", "type": "quantitative", "scale": {"type": "log", "domain": [80, 6970], "nice": false}, "axis": {"values": [100, 400, 1600, 6400], "labelExpr": "datum.value >= 1000 ? format(datum.value / 1000, '~g') + 'k' : format(datum.value, '~g')", "title": "N"}},
        "y": {"field": "v", "type": "quantitative", "scale": {"type": "log", "domain": [0.2, 25.5], "nice": false}, "axis": {"values": [0.2, 0.6, 2, 6, 20], "format": "~g", "title": "Max (eV)"}}
      },
      "layer": [
        {"mark": {"type": "line", "clip": true, "strokeWidth": 1.5},
         "encoding": {
           "color": {"field": "method", "type": "nominal", "scale": {"domain": ["BOB", "CM", "a0", "a16"], "range": ["#3182bd", "#636363", "black", "black"]}, "legend": null},
           "strokeDash": {"field": "line", "type": "nominal", "scale": {"domain": ["solid", "dotted"], "range": [[1, 0], [1.5, 2.5]]}, "legend": null}}},
        {"mark": {"type": "point", "filled": true, "opacity": 1, "size": 81, "strokeWidth": 1.2, "clip": true},
         "encoding": {
           "shape": {"field": "method", "type": "nominal", "scale": {"domain": ["a16", "a0", "CM", "BOB"], "range": ["M1,0A1,1,0,1,1,-1,0A1,1,0,1,1,1,0Z", "M1,0A1,1,0,1,1,-1,0A1,1,0,1,1,1,0Z", "M0,-1.35L0.303,-0.417L1.284,-0.417L0.491,0.159L0.794,1.092L0,0.516L-0.794,1.092L-0.491,0.159L-1.284,-0.417L-0.303,-0.417Z", "M0,-0.85L0.85,0.85L-0.85,0.85Z"]}, "legend": {"title": null, "labelExpr": "datum.value == 'a16' ? ['𝒜₃', 'σP, σG = 1.6'] : datum.value == 'a0' ? ['𝒜₃', 'σP, σG → 0'] : datum.value", "encoding": {"labels": {"update": {"lineHeight": {"value": 19}, "dy": {"condition": {"test": "datum.value == 'CM' || datum.value == 'BOB'", "value": 0}, "value": -11}}}}}},
           "fill": {"field": "method", "type": "nominal", "scale": {"domain": ["a16", "a0", "CM", "BOB"], "range": ["black", "white", "#636363", "#3182bd"]}, "legend": {"title": null, "labelExpr": "datum.value == 'a16' ? ['𝒜₃', 'σP, σG = 1.6'] : datum.value == 'a0' ? ['𝒜₃', 'σP, σG → 0'] : datum.value", "encoding": {"labels": {"update": {"lineHeight": {"value": 19}, "dy": {"condition": {"test": "datum.value == 'CM' || datum.value == 'BOB'", "value": 0}, "value": -11}}}}}},
           "stroke": {"field": "method", "type": "nominal", "scale": {"domain": ["a16", "a0", "CM", "BOB"], "range": ["black", "black", "#636363", "#3182bd"]}, "legend": {"title": null, "labelExpr": "datum.value == 'a16' ? ['𝒜₃', 'σP, σG = 1.6'] : datum.value == 'a0' ? ['𝒜₃', 'σP, σG → 0'] : datum.value", "encoding": {"labels": {"update": {"lineHeight": {"value": 19}, "dy": {"condition": {"test": "datum.value == 'CM' || datum.value == 'BOB'", "value": 0}, "value": -11}}}}}}}}
      ]
    },
    {
      "width": 259, "height": 226,
      "transform": [{"filter": "datum.el == 'Oxygen' && datum.metric == 'Max'"}],
      "encoding": {
        "x": {"field": "N", "type": "quantitative", "scale": {"type": "log", "domain": [80, 6970], "nice": false}, "axis": {"values": [100, 400, 1600, 6400], "labelExpr": "datum.value >= 1000 ? format(datum.value / 1000, '~g') + 'k' : format(datum.value, '~g')", "title": "N"}},
        "y": {"field": "v", "type": "quantitative", "scale": {"type": "log", "domain": [0.2, 25.5], "nice": false}, "axis": {"values": [0.2, 0.6, 2, 6, 20], "format": "~g", "title": null}}
      },
      "layer": [
        {"mark": {"type": "line", "clip": true, "strokeWidth": 1.5},
         "encoding": {
           "color": {"field": "method", "type": "nominal", "scale": {"domain": ["BOB", "CM", "a0", "a16"], "range": ["#3182bd", "#636363", "black", "black"]}, "legend": null},
           "strokeDash": {"field": "line", "type": "nominal", "scale": {"domain": ["solid", "dotted"], "range": [[1, 0], [1.5, 2.5]]}, "legend": null}}},
        {"mark": {"type": "point", "filled": true, "opacity": 1, "size": 81, "strokeWidth": 1.2, "clip": true},
         "encoding": {
           "shape": {"field": "method", "type": "nominal", "scale": {"domain": ["a16", "a0", "CM", "BOB"], "range": ["M1,0A1,1,0,1,1,-1,0A1,1,0,1,1,1,0Z", "M1,0A1,1,0,1,1,-1,0A1,1,0,1,1,1,0Z", "M0,-1.35L0.303,-0.417L1.284,-0.417L0.491,0.159L0.794,1.092L0,0.516L-0.794,1.092L-0.491,0.159L-1.284,-0.417L-0.303,-0.417Z", "M0,-0.85L0.85,0.85L-0.85,0.85Z"]}, "legend": {"title": null, "labelExpr": "datum.value == 'a16' ? ['𝒜₃', 'σP, σG = 1.6'] : datum.value == 'a0' ? ['𝒜₃', 'σP, σG → 0'] : datum.value", "encoding": {"labels": {"update": {"lineHeight": {"value": 19}, "dy": {"condition": {"test": "datum.value == 'CM' || datum.value == 'BOB'", "value": 0}, "value": -11}}}}}},
           "fill": {"field": "method", "type": "nominal", "scale": {"domain": ["a16", "a0", "CM", "BOB"], "range": ["black", "white", "#636363", "#3182bd"]}, "legend": {"title": null, "labelExpr": "datum.value == 'a16' ? ['𝒜₃', 'σP, σG = 1.6'] : datum.value == 'a0' ? ['𝒜₃', 'σP, σG → 0'] : datum.value", "encoding": {"labels": {"update": {"lineHeight": {"value": 19}, "dy": {"condition": {"test": "datum.value == 'CM' || datum.value == 'BOB'", "value": 0}, "value": -11}}}}}},
           "stroke": {"field": "method", "type": "nominal", "scale": {"domain": ["a16", "a0", "CM", "BOB"], "range": ["black", "black", "#636363", "#3182bd"]}, "legend": {"title": null, "labelExpr": "datum.value == 'a16' ? ['𝒜₃', 'σP, σG = 1.6'] : datum.value == 'a0' ? ['𝒜₃', 'σP, σG → 0'] : datum.value", "encoding": {"labels": {"update": {"lineHeight": {"value": 19}, "dy": {"condition": {"test": "datum.value == 'CM' || datum.value == 'BOB'", "value": 0}, "value": -11}}}}}}}}
      ]
    }
  ]
}
